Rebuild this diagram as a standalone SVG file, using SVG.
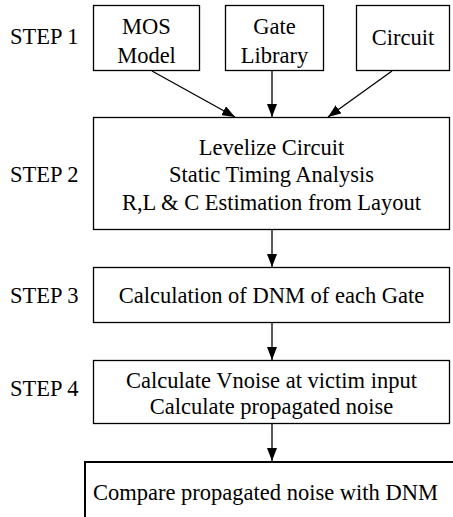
<svg xmlns="http://www.w3.org/2000/svg" width="453" height="517" viewBox="0 0 453 517">
  <style>
    .box { fill: #fff; stroke: #000; stroke-width: 1.3; }
    .lbl { font-family: "Liberation Serif", "Times New Roman", serif; font-size: 22.5px; fill: #000; }
    .mid { text-anchor: middle; }
    .edge { stroke: #000; stroke-width: 1.3; fill: none; marker-end: url(#arrow); }
  </style>
  <defs>
    <marker id="arrow" viewBox="0 0 13 10" refX="13" refY="5" markerWidth="13" markerHeight="10" markerUnits="userSpaceOnUse" orient="auto">
      <path d="M0,0 L13,5 L0,10 z" fill="#000"/>
    </marker>
  </defs>

  <!-- step labels -->
  <g id="step-labels" class="lbl">
    <text x="10" y="44">STEP 1</text>
    <text x="10" y="182">STEP 2</text>
    <text x="10" y="303">STEP 3</text>
    <text x="10" y="396">STEP 4</text>
  </g>

  <g id="mos-model">
    <rect class="box" x="93.5" y="5.5" width="106" height="65"/>
    <text class="lbl mid" x="146.5" y="34">MOS</text>
    <text class="lbl mid" x="146.5" y="63">Model</text>
  </g>
  <g id="gate-library">
    <rect class="box" x="225.5" y="5.5" width="98" height="65"/>
    <text class="lbl mid" x="274.5" y="34">Gate</text>
    <text class="lbl mid" x="274.5" y="63">Library</text>
  </g>
  <g id="circuit">
    <rect class="box" x="356.5" y="5.5" width="93" height="65"/>
    <text class="lbl mid" x="403" y="45">Circuit</text>
  </g>

  <g id="step2">
    <rect class="box" x="93.5" y="117.5" width="356" height="112"/>
    <text class="lbl mid" x="271.5" y="155">Levelize Circuit</text>
    <text class="lbl mid" x="271.5" y="182">Static Timing Analysis</text>
    <text class="lbl mid" x="271.5" y="210">R,L &amp; C Estimation from Layout</text>
  </g>

  <g id="step3">
    <rect class="box" x="93.5" y="267.5" width="356" height="55"/>
    <text class="lbl mid" x="271.5" y="303">Calculation of DNM of each Gate</text>
  </g>

  <g id="step4">
    <rect class="box" x="93.5" y="360.5" width="356" height="63"/>
    <text class="lbl mid" x="271.5" y="388">Calculate Vnoise at victim input</text>
    <text class="lbl mid" x="271.5" y="414">Calculate propagated noise</text>
  </g>

  <g id="compare">
    <path d="M85,520 V462 H460" fill="#fff" stroke="#000" stroke-width="2"/>
    <text class="lbl" x="93" y="500">Compare propagated noise with DNM</text>
  </g>

  <g id="connectors">
    <line class="edge" x1="152" y1="71" x2="235" y2="117"/>
    <line class="edge" x1="272" y1="71" x2="272" y2="117"/>
    <line class="edge" x1="392" y1="71" x2="328" y2="117"/>
    <line class="edge" x1="272" y1="230" x2="272" y2="267"/>
    <line class="edge" x1="272" y1="323" x2="272" y2="360"/>
    <line class="edge" x1="272" y1="424" x2="272" y2="461"/>
  </g>
</svg>
